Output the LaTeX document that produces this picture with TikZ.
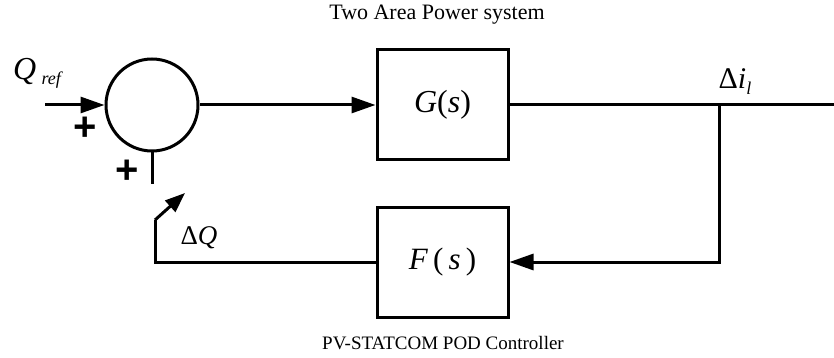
\documentclass[tikz,border=0pt]{standalone}
\usepackage{fontspec}
\setmainfont{Liberation Serif}
\newfontfamily\plusfont{Liberation Sans}
\usetikzlibrary{arrows.meta}
\begin{document}
\begin{tikzpicture}[x=1pt,y=-1pt,
  wire/.style={line width=3pt},
  tip/.style={-{Triangle[length=24pt,width=16pt]}},
  blk/.style={draw,line width=3pt,minimum width=131pt,minimum height=110pt,inner sep=0pt},
  mathlbl/.style={inner sep=0pt},
  plus/.style={inner sep=0pt,font=\plusfont\bfseries\fontsize{40}{40}\selectfont}]
\useasboundingbox (0,0) rectangle (834,358);
\node[draw,circle,line width=3pt,minimum size=92pt,inner sep=0pt] (sum) at (152,105) {};
\node[blk] (G) at (442.5,105) {\fontsize{32}{34}\selectfont\textit{G}(\textit{s})};
\node[blk] (F) at (442.5,262) {\fontsize{31}{34}\selectfont\textit{F}\,(\,\textit{s}\,)};
\coordinate (in) at (45,105);
\coordinate (out) at (834,105);
\coordinate (br) at (719,105);
\coordinate (stub) at (152,184);
\coordinate (c1) at (155,262);
\coordinate (c2) at (155,220);
\coordinate (tipend) at (185,193);
\draw[wire,tip] (in) -- (sum.west);
\draw[wire,tip] (sum.east) -- (G.west);
\draw[wire] (G.east) -- (out);
\draw[wire,tip] (br) |- (F.east);
\draw[wire] (sum.south) -- (stub);
\draw[wire,line join=miter] (F.west) -- (c1) -- (c2);
\draw[wire,-{Triangle[length=20pt,width=15pt]}] (c2) -- (tipend);
\node[mathlbl] (qref) at (38,73) {\fontsize{32}{34}\selectfont\textit{Q}\,{\fontsize{18}{20}\selectfont\raisebox{-5pt}{\textit{ref}}}};
\node[plus] (p1) at (85,129) {+};
\node[plus] (p2) at (127,172) {+};
\node[mathlbl] (dq) at (199,238) {\fontsize{27}{29}\selectfont Δ\textit{Q}};
\node[mathlbl] (di) at (735,82) {\fontsize{30}{32}\selectfont Δ\textit{i}{\fontsize{18}{20}\selectfont\raisebox{-6pt}{\textit{l}}}};
\node[inner sep=0pt,font=\fontsize{22}{24}\selectfont] (title) at (437,15) {Two Area Power system};
\node[inner sep=0pt,font=\fontsize{19}{21}\selectfont] (sub) at (443,343) {PV-STATCOM POD Controller};
\end{tikzpicture}
\end{document}
